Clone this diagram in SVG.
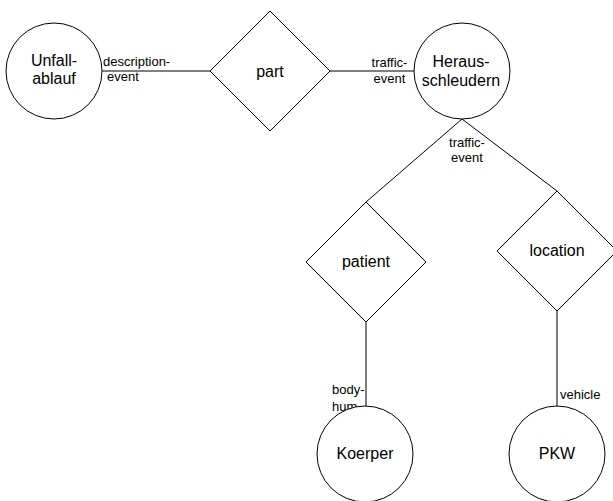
<svg xmlns="http://www.w3.org/2000/svg" width="613" height="501" viewBox="0 0 613 501">
<style>
.n{fill:#fff;stroke:#000;stroke-width:1}
.c{fill:none;stroke:#000;stroke-width:1}
.t{font-family:"Liberation Sans",Arial,sans-serif;font-size:16px;fill:#000;text-anchor:middle}
.e{font-family:"Liberation Sans",Arial,sans-serif;font-size:13px;fill:#000}
</style>
<rect width="613" height="501" fill="#fff"/>
<g id="connectors">
<line class="c" x1="102" y1="71" x2="210" y2="71"/>
<line class="c" x1="330" y1="71" x2="414" y2="71"/>
<polyline class="c" points="366,202 462,119 557,191"/>
<line class="c" x1="366" y1="322" x2="366" y2="406"/>
<line class="c" x1="557" y1="311" x2="557" y2="406"/>
<text class="e" x="103" y="66">description-</text>
<text class="e" x="107" y="81">event</text>
<text class="e" x="389.5" y="67" text-anchor="middle">traffic-</text>
<text class="e" x="389.5" y="83" text-anchor="middle">event</text>
<text class="e" x="467" y="147" text-anchor="middle">traffic-</text>
<text class="e" x="467" y="162" text-anchor="middle">event</text>
<text class="e" x="332" y="394">body-</text>
<text class="e" x="332" y="411">hum</text>
<text class="e" x="560" y="399">vehicle</text>
</g>
<g id="Unfallablauf">
<circle class="n" cx="54" cy="71" r="48"/>
<text class="t" x="54" y="66">Unfall-</text>
<text class="t" x="54" y="84">ablauf</text>
</g>
<g id="part">
<polygon class="n" points="270,11 330,71 270,131 210,71"/>
<text class="t" x="270" y="77">part</text>
</g>
<g id="Herausschleudern">
<circle class="n" cx="462" cy="71" r="48"/>
<text class="t" x="461" y="67">Heraus-</text>
<text class="t" x="461" y="86">schleudern</text>
</g>
<g id="patient">
<polygon class="n" points="366,202 426,262 366,322 306,262"/>
<text class="t" x="366" y="267">patient</text>
</g>
<g id="location">
<polygon class="n" points="557,191 617,251 557,311 497,251"/>
<text class="t" x="557" y="256">location</text>
</g>
<g id="Koerper">
<circle class="n" cx="365" cy="454" r="48"/>
<text class="t" x="365" y="459">Koerper</text>
</g>
<g id="PKW">
<circle class="n" cx="557" cy="454" r="48"/>
<text class="t" x="557" y="459">PKW</text>
</g>
</svg>
